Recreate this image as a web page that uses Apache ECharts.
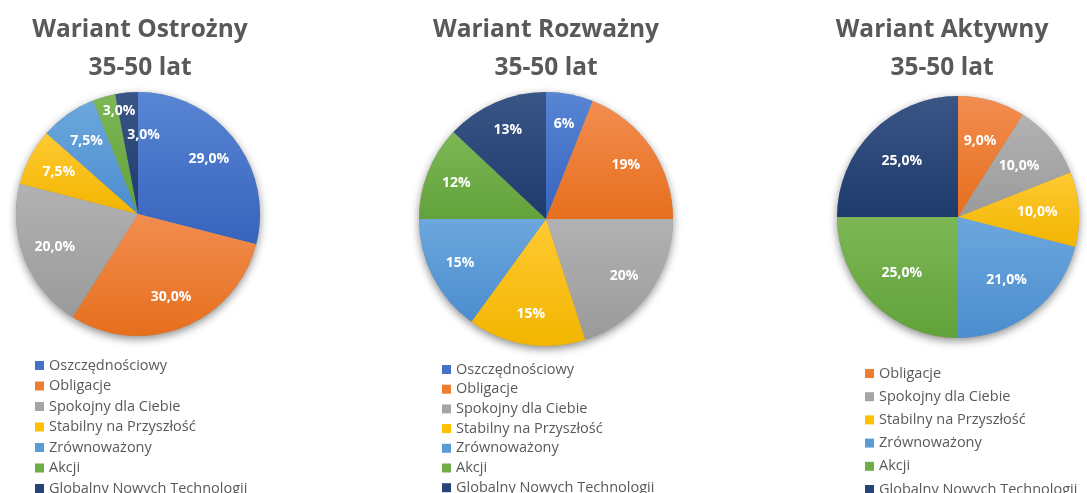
<!DOCTYPE html>
<html>
<head>
<meta charset="utf-8">
<script src="https://cdn.jsdelivr.net/npm/echarts@6/dist/echarts.min.js"></script>
<style>
    html, body { margin: 0; padding: 0; background: #fff; }
    #main { width: 1087px; height: 493px; }
</style>
</head>
<body>
<div id="main"></div>
<script>
    // dane
    var namesAll = ['Oszczędnościowy', 'Obligacje', 'Spokojny dla Ciebie', 'Stabilny na Przyszłość', 'Zrównoważony', 'Akcji', 'Globalny Nowych Technologii'];
    var ostroznyValues = [29, 30, 20, 7.5, 7.5, 3, 3];
    var rozwaznyValues = [6, 19, 20, 15, 15, 12, 13];
    var aktywnyNames = ['Obligacje', 'Spokojny dla Ciebie', 'Stabilny na Przyszłość', 'Zrównoważony', 'Akcji', 'Globalny Nowych Technologii'];
    var aktywnyValues = [9, 10, 10, 21, 25, 25];
    var titles = ['Wariant Ostrożny\n35-50 lat', 'Wariant Rozważny\n35-50 lat', 'Wariant Aktywny\n35-50 lat'];

    // kolory: [legenda, jasny, ciemny]
    var colors = {
        'Oszczędnościowy': ['#4472C4', '#5886D4', '#3763BC'],
        'Obligacje': ['#ED7D31', '#F28D50', '#E66F1D'],
        'Spokojny dla Ciebie': ['#A5A5A5', '#B2B2B2', '#9A9A9A'],
        'Stabilny na Przyszłość': ['#FFC000', '#FFCA33', '#F2B500'],
        'Zrównoważony': ['#5B9BD5', '#6CA7DD', '#4B8DCF'],
        'Akcji': ['#70AD47', '#7DB756', '#62A23A'],
        'Globalny Nowych Technologii': ['#264478', '#3A5686', '#1E3A6C']
    };

    var font = '"Open Sans", "Noto Sans", sans-serif';
    var textColor = '#595959';

    // układ każdego wykresu (nudge = drobne przesunięcie etykiet jak w Excelu)
    var charts = [
        {names: namesAll, values: ostroznyValues, center: [138, 214], r: 122, k: 1.4, fmt: 1, titleX: 140, legendX: 35, legendY: 358, gap: 5.5,
            nudge: {5: [6, -17], 6: [14, 10]}},
        {names: namesAll, values: rozwaznyValues, center: [546, 219], r: 127, k: 1.45, fmt: 0, titleX: 546, legendX: 442, legendY: 362, gap: 4.7,
            nudge: {}},
        {names: aktywnyNames, values: aktywnyValues, center: [958, 217], r: 121, k: 1.25, fmt: 1, titleX: 942, legendX: 865, legendY: 366, gap: 8.2,
            nudge: {}}
    ];

    var myChart = echarts.init(document.getElementById('main'));

    var title = [], legend = [], series = [];

    charts.forEach(function (c, idx) {
        title.push({
            text: titles[idx],
            left: c.titleX,
            top: 11,
            padding: 0,
            textAlign: 'center',
            textStyle: {
                fontFamily: font,
                fontSize: 24.5,
                fontWeight: 'bold',
                color: textColor,
                lineHeight: 38
            }
        });

        legend.push({
            orient: 'vertical',
            left: c.legendX,
            top: c.legendY,
            height: 220,
            padding: 0,
            icon: 'rect',
            itemWidth: 9,
            itemHeight: 9,
            itemGap: c.gap,
            selectedMode: false,
            textStyle: {
                fontFamily: font,
                fontSize: 14.5,
                lineHeight: 14,
                color: textColor
            },
            data: c.names.map(function (n) {
                return {name: n, itemStyle: {color: colors[n][0]}};
            })
        });

        var data = c.names.map(function (n, i) {
            return {
                name: n,
                value: c.values[i],
                itemStyle: {
                    color: new echarts.graphic.LinearGradient(0, 0, 0, 1, [
                        {offset: 0, color: colors[n][1]},
                        {offset: 1, color: colors[n][2]}
                    ])
                }
            };
        });

        // cień pod kołem
        series.push({
            type: 'pie',
            center: c.center,
            radius: c.r,
            startAngle: 90,
            silent: true,
            animation: false,
            z: 1,
            itemStyle: {
                color: '#999',
                shadowBlur: 8,
                shadowOffsetY: 3,
                shadowColor: 'rgba(0,0,0,0.45)'
            },
            label: {show: false},
            labelLine: {show: false},
            data: c.values.map(function (v, i) {
                return {name: c.names[i], value: v};
            })
        });

        series.push({
            type: 'pie',
            center: c.center,
            radius: c.r,
            startAngle: 90,
            clockwise: true,
            silent: true,
            animation: false,
            z: 2,
            itemStyle: {
                borderWidth: 0
            },
            label: {
                show: true,
                position: 'inside',
                fontFamily: font,
                fontSize: 14,
                fontWeight: 'bold',
                color: '#fff',
                formatter: function (p) {
                    return c.fmt ? p.value.toFixed(1).replace('.', ',') + '%' : p.value + '%';
                }
            },
            labelLine: {show: false},
            labelLayout: function (p) {
                var lr = p.labelRect;
                var lx = lr.x + lr.width / 2, ly = lr.y + lr.height / 2;
                var n = c.nudge[p.dataIndex] || [0, 0];
                return {
                    x: c.center[0] + (lx - c.center[0]) * c.k + n[0],
                    y: c.center[1] + (ly - c.center[1]) * c.k + n[1],
                    align: 'center',
                    verticalAlign: 'middle'
                };
            },
            data: data
        });
    });

    myChart.setOption({
        backgroundColor: '#fff',
        title: title,
        legend: legend,
        series: series
    });
</script>
</body>
</html>
